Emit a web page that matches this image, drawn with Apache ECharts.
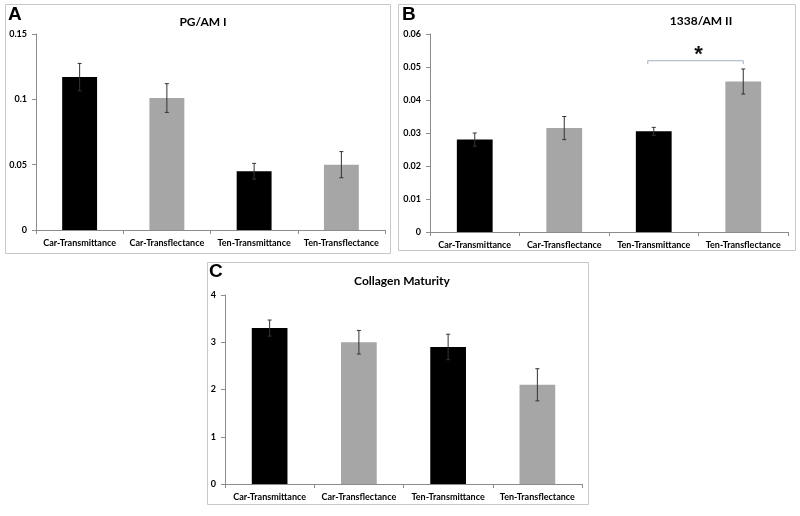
<!DOCTYPE html>
<html>
<head>
<meta charset="utf-8">
<script src="https://cdn.jsdelivr.net/npm/echarts@6/dist/echarts.min.js"></script>
<style>
html,body{margin:0;padding:0;background:#fff;}
#chart{width:800px;height:516px;}
</style>
</head>
<body>
<div id="chart"></div>
<script>
const categories = ['Car-Transmittance', 'Car-Transflectance', 'Ten-Transmittance', 'Ten-Transflectance'];
const barColors = ['#000000', '#a6a6a6', '#000000', '#a6a6a6'];

const titleA = 'PG/AM I';
const valuesA = [0.117, 0.101, 0.045, 0.050];
const errorsA = [0.0105, 0.011, 0.006, 0.010];
const ticksA = { min: 0, max: 0.15, interval: 0.05 };

const titleB = '1338/AM II';
const valuesB = [0.028, 0.0315, 0.0305, 0.0456];
const errorsB = [0.002, 0.0035, 0.0012, 0.0038];
const ticksB = { min: 0, max: 0.06, interval: 0.01 };
// significance bracket between categories 2 and 3: [from, to, tickBottom, top, starY]
const bracketB = [[2, 3, 0.0509, 0.0519, 0.0538]];

const titleC = 'Collagen Maturity';
const valuesC = [3.3, 3.0, 2.9, 2.1];
const errorsC = [0.17, 0.25, 0.27, 0.34];
const ticksC = { min: 0, max: 4, interval: 1 };

const FONT = 'Lato';

function xAxisFor(gi) {
  return {
    type: 'category', gridIndex: gi, data: categories,
    axisLine: { lineStyle: { color: '#8c8c8c', width: 1 } },
    axisTick: { show: true, alignWithLabel: false, length: 4, lineStyle: { color: '#8c8c8c' } },
    axisLabel: { color: '#000', fontFamily: FONT, fontWeight: 'bold', fontSize: 9, margin: 9, interval: 0 },
    splitLine: { show: false }
  };
}
function yAxisFor(gi, t, fmt) {
  return {
    type: 'value', gridIndex: gi, min: t.min, max: t.max, interval: t.interval,
    axisLine: { show: true, lineStyle: { color: '#8c8c8c', width: 1 } },
    axisTick: { show: true, length: 4, lineStyle: { color: '#8c8c8c' } },
    axisLabel: { color: '#000', fontFamily: FONT, fontWeight: 'bold', fontSize: 9, margin: 9, formatter: fmt },
    splitLine: { show: false }
  };
}
function barSeries(gi, vals) {
  return {
    type: 'bar', xAxisIndex: gi, yAxisIndex: gi, barWidth: '40%',
    data: vals.map((v, i) => ({ value: v, itemStyle: { color: barColors[i] } })),
    silent: true, z: 2
  };
}
function errSeries(gi, vals, errs) {
  return {
    type: 'custom', xAxisIndex: gi, yAxisIndex: gi, z: 5, silent: true,
    data: vals.map((v, i) => [i, v - errs[i], v + errs[i]]),
    renderItem: function (params, api) {
      const x = api.value(0);
      const lo = api.coord([x, api.value(1)]);
      const hi = api.coord([x, api.value(2)]);
      const cap = 2;
      const st = { stroke: '#333333', lineWidth: 1 };
      return {
        type: 'group', children: [
          { type: 'line', shape: { x1: lo[0], y1: lo[1], x2: hi[0], y2: hi[1] }, style: st },
          { type: 'line', shape: { x1: lo[0] - cap, y1: lo[1], x2: lo[0] + cap, y2: lo[1] }, style: st },
          { type: 'line', shape: { x1: hi[0] - cap, y1: hi[1], x2: hi[0] + cap, y2: hi[1] }, style: st }
        ]
      };
    }
  };
}
const fmt = v => (v === 0 ? '0' : String(+v.toFixed(3)));

const chart = echarts.init(document.getElementById('chart'));
chart.setOption({
  backgroundColor: '#ffffff',
  animation: false,
  graphic: [
    { type: 'rect', shape: { x: 5.5, y: 4.5, width: 385, height: 249 }, style: { fill: 'none', stroke: '#c8c8c8', lineWidth: 1 }, z: -1 },
    { type: 'rect', shape: { x: 398.5, y: 4.5, width: 397, height: 246 }, style: { fill: 'none', stroke: '#c8c8c8', lineWidth: 1 }, z: -1 },
    { type: 'rect', shape: { x: 207.5, y: 262.5, width: 381, height: 242 }, style: { fill: 'none', stroke: '#c8c8c8', lineWidth: 1 }, z: -1 },
    { type: 'text', left: 8, top: 5, style: { text: 'A', font: 'bold 19px "Liberation Sans", Arial', fill: '#000' } },
    { type: 'text', left: 402, top: 5, style: { text: 'B', font: 'bold 19px "Liberation Sans", Arial', fill: '#000' } },
    { type: 'text', left: 209, top: 262, style: { text: 'C', font: 'bold 19px "Liberation Sans", Arial', fill: '#000' } }
  ],
  title: [
    { text: titleA, left: 198, top: 11, textAlign: 'center', textStyle: { fontFamily: FONT, fontWeight: 'bold', fontSize: 12, color: '#000' } },
    { text: titleB, left: 696, top: 10, textAlign: 'center', textStyle: { fontFamily: FONT, fontWeight: 'bold', fontSize: 12, color: '#000' } },
    { text: titleC, left: 397, top: 270, textAlign: 'center', textStyle: { fontFamily: FONT, fontWeight: 'bold', fontSize: 12, color: '#000' } }
  ],
  grid: [
    { left: 36, top: 34, width: 349, height: 196 },
    { left: 430, top: 34, width: 358, height: 198 },
    { left: 225, top: 295, width: 357, height: 189 }
  ],
  xAxis: [xAxisFor(0), xAxisFor(1), xAxisFor(2)],
  yAxis: [yAxisFor(0, ticksA, fmt), yAxisFor(1, ticksB, fmt), yAxisFor(2, ticksC, fmt)],
  series: [
    barSeries(0, valuesA), errSeries(0, valuesA, errorsA),
    barSeries(1, valuesB), errSeries(1, valuesB, errorsB),
    barSeries(2, valuesC), errSeries(2, valuesC, errorsC),
    {
      type: 'custom', xAxisIndex: 1, yAxisIndex: 1, z: 6, silent: true,
      data: bracketB,
      renderItem: function (params, api) {
        const a0 = api.coord([api.value(0), api.value(2)]);
        const a1 = api.coord([api.value(0), api.value(3)]);
        const b1 = api.coord([api.value(1), api.value(3)]);
        const b0 = api.coord([api.value(1), api.value(2)]);
        const s = api.coord([api.value(0), api.value(4)]);
        const sx = (a1[0] + b1[0]) / 2;
        return {
          type: 'group', children: [
            { type: 'polyline', shape: { points: [[a0[0] - 6, a0[1]], [a1[0] - 6, a1[1]], [b1[0], b1[1]], [b0[0], b0[1]]] },
              style: { stroke: '#9fb0c0', lineWidth: 1, fill: null } },
            { type: 'text', x: sx, y: s[1], style: { text: '*', font: 'bold 22px "Liberation Sans", Arial', fill: '#111', align: 'center', verticalAlign: 'middle' } }
          ]
        };
      }
    }
  ]
});
</script>
</body>
</html>
